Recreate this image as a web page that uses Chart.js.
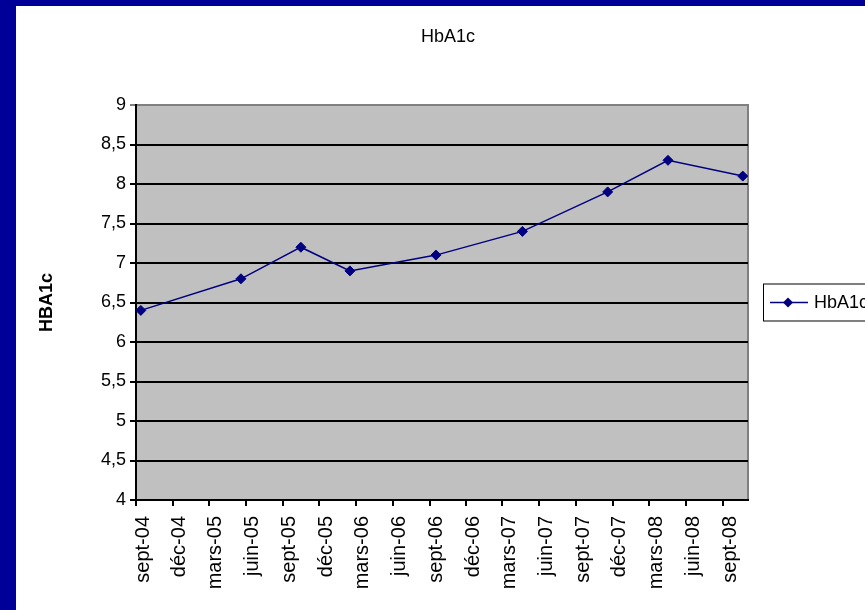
<!DOCTYPE html>
<html>
<head>
<meta charset="utf-8">
<script src="https://cdn.jsdelivr.net/npm/chart.js@4.4.1/dist/chart.umd.min.js"></script>
<style>
  html, body { margin: 0; padding: 0; background: #000099; overflow: hidden; }
  #cadre { position: absolute; left: 16px; top: 6px; width: 849px; height: 604px; background: #fff; }
  canvas { display: block; }
</style>
</head>
<body>
<div id="cadre"><canvas id="grafico"></canvas></div>
<script>
const datesMesures = ['2004-09-13', '2005-05-20', '2005-10-16', '2006-02-15', '2006-09-17',
    '2007-04-20', '2007-11-18', '2008-04-16', '2008-10-19'];
const valeursHbA1c = [6.4, 6.8, 7.2, 6.9, 7.1, 7.4, 7.9, 8.3, 8.1];

// Axe des dates : graduations tous les trois mois
const debutAxe = '2004-09-01';
const finAxe = '2008-11-01';
const datesGraduations = ['2004-09-01', '2004-12-01', '2005-03-01', '2005-06-01', '2005-09-01',
    '2005-12-01', '2006-03-01', '2006-06-01', '2006-09-01', '2006-12-01', '2007-03-01',
    '2007-06-01', '2007-09-01', '2007-12-01', '2008-03-01', '2008-06-01', '2008-09-01'];
const etiquettesGraduations = ['sept-04', 'déc-04', 'mars-05', 'juin-05', 'sept-05', 'déc-05',
    'mars-06', 'juin-06', 'sept-06', 'déc-06', 'mars-07', 'juin-07', 'sept-07', 'déc-07',
    'mars-08', 'juin-08', 'sept-08'];

// Axe des valeurs
const graduationsY = [4, 4.5, 5, 5.5, 6, 6.5, 7, 7.5, 8, 8.5, 9];

const police = "'Liberation Sans', Arial, sans-serif";
const couleurSerie = '#000080';

const enJours = (d) => Date.parse(d + 'T00:00:00Z') / 86400000;

const dessinerLosange = (ctx, x, y, r) => {
    ctx.beginPath();
    ctx.moveTo(x - r, y);
    ctx.lineTo(x, y - r);
    ctx.lineTo(x + r, y);
    ctx.lineTo(x, y + r);
    ctx.closePath();
    ctx.fill();
};

// Fond gris, cadre, titre et légende façon Excel
const habillage = {
    id: 'habillage',
    beforeDraw(chart) {
        const { ctx, chartArea: a } = chart;
        ctx.save();
        ctx.fillStyle = '#c0c0c0';
        ctx.fillRect(a.left, a.top, a.right - a.left, a.bottom - a.top);
        ctx.strokeStyle = '#808080';
        ctx.lineWidth = 2;
        ctx.beginPath();
        ctx.moveTo(a.left, a.top);
        ctx.lineTo(a.right, a.top);
        ctx.lineTo(a.right, a.bottom);
        ctx.stroke();
        ctx.restore();
    },
    afterDraw(chart) {
        const { ctx, chartArea: a } = chart;
        ctx.save();

        // Titre
        ctx.fillStyle = '#000';
        ctx.font = `18px ${police}`;
        ctx.textAlign = 'center';
        ctx.textBaseline = 'middle';
        ctx.fillText('HbA1c', 432, 31);

        // Légende
        const gauche = a.right + 15;
        const milieu = (a.top + a.bottom) / 2;
        ctx.fillStyle = '#fff';
        ctx.fillRect(gauche, milieu - 19, 130, 37);
        ctx.strokeStyle = '#000';
        ctx.lineWidth = 1;
        ctx.strokeRect(gauche + 0.5, milieu - 19 + 0.5, 130, 37);

        ctx.strokeStyle = couleurSerie;
        ctx.lineWidth = 1.5;
        ctx.beginPath();
        ctx.moveTo(gauche + 7, milieu);
        ctx.lineTo(gauche + 45, milieu);
        ctx.stroke();
        ctx.fillStyle = couleurSerie;
        dessinerLosange(ctx, gauche + 25, milieu, 5);

        ctx.fillStyle = '#000';
        ctx.font = `18px ${police}`;
        ctx.textAlign = 'left';
        ctx.fillText('HbA1c', gauche + 51, milieu + 1);
        ctx.restore();
    }
};

const grafico = document.getElementById('grafico').getContext('2d');

new Chart(grafico, {
    type: 'line',
    data: {
        datasets: [{
            label: 'HbA1c',
            data: datesMesures.map((d, i) => ({ x: enJours(d), y: valeursHbA1c[i] })),
            borderColor: couleurSerie,
            backgroundColor: couleurSerie,
            borderWidth: 1.5,
            pointStyle: 'rectRot',
            pointRadius: 5,
            pointBorderWidth: 1,
            pointBackgroundColor: couleurSerie,
            pointBorderColor: couleurSerie,
            tension: 0,
            fill: false
        }]
    },
    options: {
        responsive: true,
        maintainAspectRatio: false,
        animation: false,
        layout: { padding: { top: 99, right: 117, left: 0, bottom: 0 } },
        plugins: {
            legend: { display: false },
            title: { display: false },
            tooltip: { enabled: false }
        },
        scales: {
            x: {
                type: 'linear',
                bounds: 'data',
                min: enJours(debutAxe),
                max: enJours(finAxe),
                afterBuildTicks: (s) => { s.ticks = datesGraduations.map(d => ({ value: enJours(d) })); },
                afterFit: (s) => { s.height = 110; },
                ticks: {
                    autoSkip: false,
                    minRotation: 90,
                    maxRotation: 90,
                    padding: 10,
                    labelOffset: 7,
                    color: '#000',
                    font: { family: police, size: 20 },
                    callback: (v, i) => etiquettesGraduations[i]
                },
                grid: { drawOnChartArea: false, drawTicks: true, tickLength: 6, color: '#000', lineWidth: 2 },
                border: { color: '#000', width: 2 }
            },
            y: {
                min: 4,
                max: 9,
                bounds: 'data',
                afterBuildTicks: (s) => { s.ticks = graduationsY.map(v => ({ value: v })); },
                afterFit: (s) => { s.width = 120; },
                ticks: {
                    padding: 4,
                    color: '#000',
                    font: { family: police, size: 18 },
                    callback: (v) => String(v).replace('.', ',')
                },
                grid: {
                    color: (c) => (c.tick && c.tick.value === 9 ? '#808080' : '#000'),
                    lineWidth: 2,
                    tickLength: 6
                },
                border: { color: '#000', width: 2 },
                title: {
                    display: true,
                    text: 'HBA1c',
                    color: '#000',
                    font: { family: police, size: 18, weight: 'bold' },
                    padding: { top: 20, bottom: 0 }
                }
            }
        }
    },
    plugins: [habillage]
});
</script>
</body>
</html>
